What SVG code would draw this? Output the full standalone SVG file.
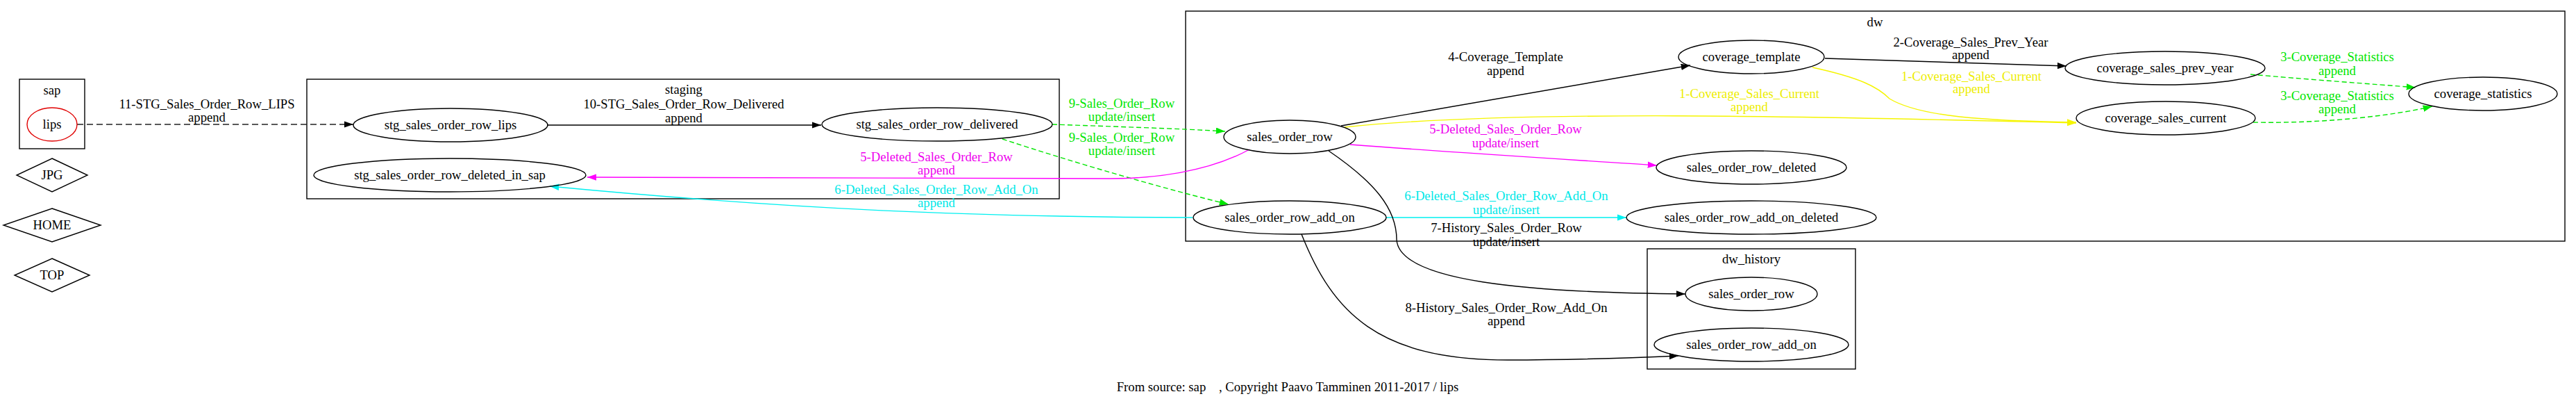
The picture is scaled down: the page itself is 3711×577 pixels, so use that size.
<svg xmlns="http://www.w3.org/2000/svg" width="3711" height="577" viewBox="0 0 3711 577">
<style>
text{font-family:"Liberation Serif","Times New Roman",serif;font-size:18.67px;text-anchor:middle;fill:#000}
.cl{fill:none;stroke:#000;stroke-width:1.4}
.nd{fill:none;stroke:#000;stroke-width:1.4}
.e{fill:none;stroke-width:1.4}
.k{stroke:#000}
.g{stroke:#00e600;stroke-dasharray:7,4}
.m{stroke:#ff00ff}
.c{stroke:#00f0f0}
.y{stroke:#f5f500}
.d{stroke:#222;stroke-dasharray:9,5}
.tg{fill:#00e600}.tm{fill:#ee00ee}.tc{fill:#00e8e8}.ty{fill:#eded00}
</style>
<defs>
<marker id="ak" markerWidth="14" markerHeight="10" refX="13.3" refY="4.7" orient="auto" markerUnits="userSpaceOnUse"><path d="M0,0 L13.3,4.7 L0,9.4 z" fill="#000"/></marker>
<marker id="ag" markerWidth="14" markerHeight="10" refX="13.3" refY="4.7" orient="auto" markerUnits="userSpaceOnUse"><path d="M0,0 L13.3,4.7 L0,9.4 z" fill="#00e600"/></marker>
<marker id="am" markerWidth="14" markerHeight="10" refX="13.3" refY="4.7" orient="auto" markerUnits="userSpaceOnUse"><path d="M0,0 L13.3,4.7 L0,9.4 z" fill="#ff00ff"/></marker>
<marker id="ac" markerWidth="14" markerHeight="10" refX="13.3" refY="4.7" orient="auto" markerUnits="userSpaceOnUse"><path d="M0,0 L13.3,4.7 L0,9.4 z" fill="#00f0f0"/></marker>
<marker id="ay" markerWidth="14" markerHeight="10" refX="13.3" refY="4.7" orient="auto" markerUnits="userSpaceOnUse"><path d="M0,0 L13.3,4.7 L0,9.4 z" fill="#f5f500"/></marker>
</defs>
<rect width="3711" height="577" fill="#fff"/>

<g id="clusters">
<g id="cluster_sap"><rect class="cl" x="28" y="114" width="94" height="100"/><text x="75" y="136">sap</text></g>
<g id="cluster_staging"><rect class="cl" x="442" y="114" width="1084" height="172"/><text x="985" y="135">staging</text></g>
<g id="cluster_dw"><rect class="cl" x="1708" y="16" width="1987" height="331"/><text x="2701" y="38">dw</text></g>
<g id="cluster_dw_history"><rect class="cl" x="2373" y="358" width="300" height="173"/><text x="2523" y="379">dw_history</text></g>
</g>

<g id="connectors">
<path class="e d" d="M111,179 L509,179" marker-end="url(#ak)"/>
<text x="298" y="156">11-STG_Sales_Order_Row_LIPS</text><text x="298" y="175">append</text>

<path class="e k" d="M788,180 L1183,180" marker-end="url(#ak)"/>
<text x="985" y="156">10-STG_Sales_Order_Row_Delivered</text><text x="985" y="176">append</text>

<path class="e g" d="M1516,179 C1600,182 1700,185 1765,189" marker-end="url(#ag)"/>
<text class="tg" x="1616" y="155">9-Sales_Order_Row</text><text class="tg" x="1616" y="174">update/insert</text>
<path class="e g" d="M1444,200 C1550,235 1690,275 1770,294" marker-end="url(#ag)"/>
<text class="tg" x="1616" y="204">9-Sales_Order_Row</text><text class="tg" x="1616" y="223">update/insert</text>

<path class="e m" d="M1800,215 C1740,248 1660,257 1600,257 L846,255" marker-end="url(#am)"/>
<text class="tm" x="1349" y="232">5-Deleted_Sales_Order_Row</text><text class="tm" x="1349" y="251">append</text>

<path class="e c" d="M1718,313 C1400,312 1150,302 792,268" marker-end="url(#ac)"/>
<text class="tc" x="1349" y="279">6-Deleted_Sales_Order_Row_Add_On</text><text class="tc" x="1349" y="298">append</text>

<path class="e k" d="M1932,181 L2435,94" marker-end="url(#ak)"/>
<text x="2169" y="88">4-Coverage_Template</text><text x="2169" y="108">append</text>

<path class="e y" d="M1937,183 C2200,155 2700,170 2991,177" marker-end="url(#ay)"/>
<text class="ty" x="2520" y="141">1-Coverage_Sales_Current</text><text class="ty" x="2520" y="160">append</text>

<path class="e y" d="M2611,97 C2680,112 2705,125 2722,142 C2765,168 2860,174 2991,176" marker-end="url(#ay)"/>
<text class="ty" x="2840" y="116">1-Coverage_Sales_Current</text><text class="ty" x="2840" y="134">append</text>

<path class="e k" d="M2629,84 L2977,95" marker-end="url(#ak)"/>
<text x="2839" y="67">2-Coverage_Sales_Prev_Year</text><text x="2839" y="85">append</text>

<path class="e g" d="M3242,107 C3320,114 3420,121 3480,126" marker-end="url(#ag)"/>
<text class="tg" x="3367" y="88">3-Coverage_Statistics</text><text class="tg" x="3367" y="108">append</text>
<path class="e g" d="M3246,176 C3350,178 3450,166 3504,153" marker-end="url(#ag)"/>
<text class="tg" x="3367" y="144">3-Coverage_Statistics</text><text class="tg" x="3367" y="163">append</text>

<path class="e m" d="M1945,208 C2100,220 2300,232 2387,238" marker-end="url(#am)"/>
<text class="tm" x="2169" y="192">5-Deleted_Sales_Order_Row</text><text class="tm" x="2169" y="212">update/insert</text>

<path class="e c" d="M1997,313 L2343,313" marker-end="url(#ac)"/>
<text class="tc" x="2170" y="288">6-Deleted_Sales_Order_Row_Add_On</text><text class="tc" x="2170" y="308">update/insert</text>

<path class="e k" d="M1914,217 C1980,262 2012,300 2012,345 C2016,405 2200,421 2428,423" marker-end="url(#ak)"/>
<text x="2170" y="334">7-History_Sales_Order_Row</text><text x="2170" y="354">update/insert</text>

<path class="e k" d="M1875,337 C1920,450 1985,518 2172,518 C2280,518 2350,515 2418,512" marker-end="url(#ak)"/>
<text x="2170" y="449">8-History_Sales_Order_Row_Add_On</text><text x="2170" y="468">append</text>
</g>

<g id="lips"><ellipse cx="75" cy="179" rx="36" ry="24" fill="none" stroke="#e00000" stroke-width="1.4"/><text x="75" y="185">lips</text></g>
<g id="JPG"><polygon class="nd" points="75,228 126,252 75,276 24,252"/><text x="75" y="258">JPG</text></g>
<g id="HOME"><polygon class="nd" points="75,300 145,324 75,348 5,324"/><text x="75" y="330">HOME</text></g>
<g id="TOP"><polygon class="nd" points="75,372 129,396 75,420 21,396"/><text x="75" y="402">TOP</text></g>

<g id="stg_sales_order_row_lips"><ellipse class="nd" cx="649" cy="180" rx="140" ry="24"/><text x="649" y="186">stg_sales_order_row_lips</text></g>
<g id="stg_sales_order_row_deleted_in_sap"><ellipse class="nd" cx="648" cy="252" rx="196" ry="24"/><text x="648" y="258">stg_sales_order_row_deleted_in_sap</text></g>
<g id="stg_sales_order_row_delivered"><ellipse class="nd" cx="1350" cy="179" rx="166" ry="24"/><text x="1350" y="185">stg_sales_order_row_delivered</text></g>

<g id="dw_sales_order_row"><ellipse class="nd" cx="1858" cy="197" rx="95" ry="24"/><text x="1858" y="203">sales_order_row</text></g>
<g id="dw_sales_order_row_add_on"><ellipse class="nd" cx="1858" cy="313" rx="139" ry="24"/><text x="1858" y="319">sales_order_row_add_on</text></g>
<g id="coverage_template"><ellipse class="nd" cx="2523" cy="82" rx="105" ry="24"/><text x="2523" y="88">coverage_template</text></g>
<g id="sales_order_row_deleted"><ellipse class="nd" cx="2523" cy="241" rx="137" ry="24"/><text x="2523" y="247">sales_order_row_deleted</text></g>
<g id="sales_order_row_add_on_deleted"><ellipse class="nd" cx="2523" cy="313" rx="180" ry="24"/><text x="2523" y="319">sales_order_row_add_on_deleted</text></g>
<g id="coverage_sales_prev_year"><ellipse class="nd" cx="3119" cy="98" rx="144" ry="24"/><text x="3119" y="104">coverage_sales_prev_year</text></g>
<g id="coverage_sales_current"><ellipse class="nd" cx="3120" cy="170" rx="129" ry="24"/><text x="3120" y="176">coverage_sales_current</text></g>
<g id="coverage_statistics"><ellipse class="nd" cx="3577" cy="135" rx="107" ry="24"/><text x="3577" y="141">coverage_statistics</text></g>

<g id="hist_sales_order_row"><ellipse class="nd" cx="2523" cy="423" rx="95" ry="24"/><text x="2523" y="429">sales_order_row</text></g>
<g id="hist_sales_order_row_add_on"><ellipse class="nd" cx="2523" cy="496" rx="140" ry="24"/><text x="2523" y="502">sales_order_row_add_on</text></g>

<text x="1855" y="563" xml:space="preserve" style="white-space:pre">From source: sap    , Copyright Paavo Tamminen 2011-2017 / lips</text>
</svg>
